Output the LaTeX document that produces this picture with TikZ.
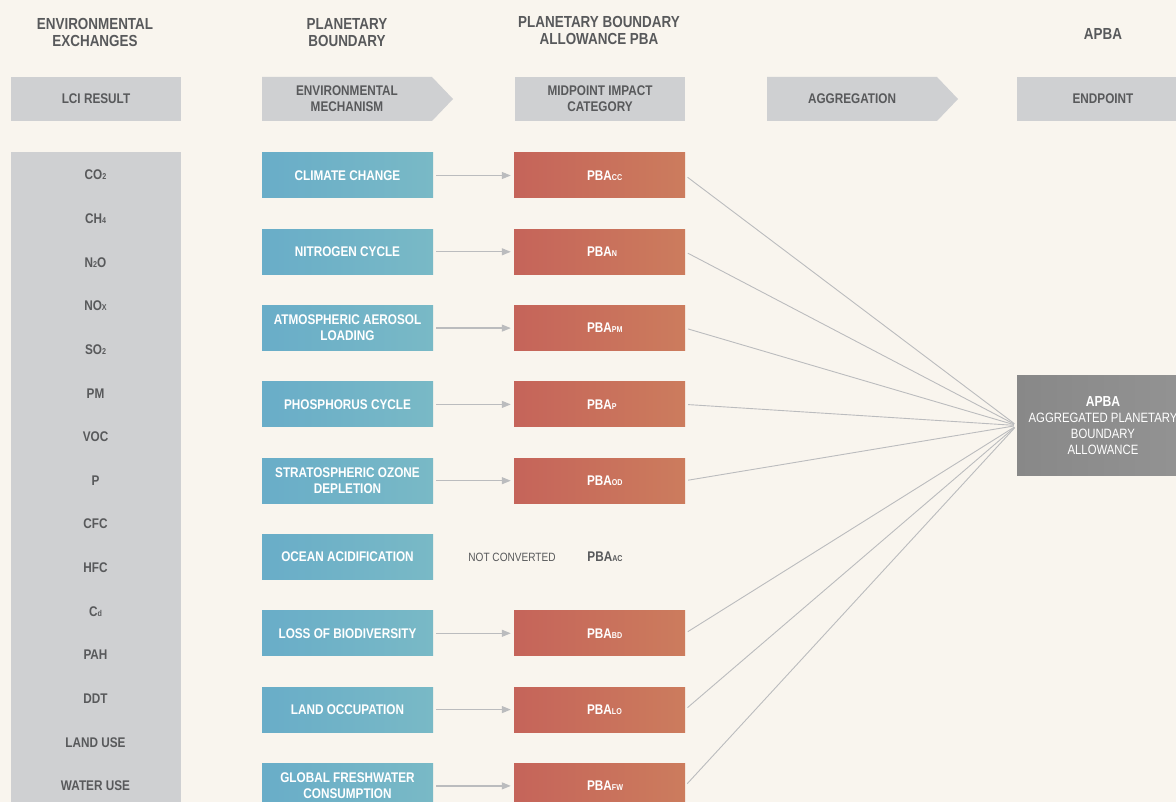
\documentclass[tikz,border=0pt]{standalone}
\usepackage{fontspec}
\setmainfont{Liberation Sans}[FakeStretch=0.84]
\usetikzlibrary{arrows.meta}

\definecolor{bg}{HTML}{F9F5EE}
\definecolor{panel}{HTML}{CFD0D2}
\definecolor{ink}{HTML}{58595B}
\definecolor{blueL}{HTML}{69ADC8}
\definecolor{blueR}{HTML}{79B9C6}
\definecolor{redL}{HTML}{C5645A}
\definecolor{redR}{HTML}{CC7C5D}
\definecolor{apbaL}{HTML}{888888}
\definecolor{apbaR}{HTML}{939393}
\definecolor{wire}{HTML}{BBBCBE}

\newcommand\titlefont{\fontsize{16}{17}\selectfont\bfseries}
\newcommand\boxfont{\fontsize{14}{16}\selectfont\bfseries}
\newcommand\notefont{\fontsize{12}{14}\selectfont}
\newcommand\lowsub[1]{{\fontsize{8.5}{9}\selectfont #1}}
\newcommand\pbasub[1]{PBA\rlap{\lowsub{#1}}}

\tikzset{
  coltitle/.style={text=ink, font=\titlefont, align=center, inner sep=0pt},
  hdrbox/.style={fill=panel, minimum width=170pt, minimum height=44pt, inner sep=0pt,
                 text=ink, font=\boxfont, align=center},
  hdrtext/.style={text=ink, font=\boxfont, align=center, inner sep=0pt},
  lciitem/.style={text=ink, font=\boxfont, inner sep=0pt},
  mech/.style={left color=blueL, right color=blueR, minimum width=171pt, minimum height=45pt,
               inner sep=0pt, text=white, font=\boxfont, align=center},
  pba/.style={left color=redL, right color=redR, minimum width=171pt, minimum height=45pt,
              inner sep=0pt, text=white, font=\boxfont, align=center},
  flow/.style={draw=wire, line width=1.2pt, shorten <=3pt, shorten >=3pt,
               -{Triangle[length=9pt,width=7pt]}},
  link/.style={draw=wire, line width=0.9pt, shorten <=3pt, shorten >=3pt},
}

\begin{document}
\begin{tikzpicture}[x=1pt,y=-1pt]
\clip (0,0) rectangle (1176,802);
\fill[bg] (0,0) rectangle (1176,802);

% column titles
\node[coltitle] (t1) at (95,32.5) {ENVIRONMENTAL\\EXCHANGES};
\node[coltitle] (t2) at (347,32.5) {PLANETARY\\BOUNDARY};
\node[coltitle] (t3) at (599,30.5) {PLANETARY BOUNDARY\\ALLOWANCE PBA};
\node[coltitle] (t4) at (1103,34) {APBA};

% header row
\node[hdrbox] (h1) at (96,99) {LCI RESULT};
\fill[panel] (262,77) -- (432,77) -- (453,99) -- (432,121) -- (262,121) -- cycle;
\node[hdrtext] (h2) at (347,99) {ENVIRONMENTAL\\MECHANISM};
\node[hdrbox] (h3) at (600,99) {MIDPOINT IMPACT\\CATEGORY};
\fill[panel] (767,77) -- (937,77) -- (958,99) -- (937,121) -- (767,121) -- cycle;
\node[hdrtext] (h4) at (852,99) {AGGREGATION};
\node[hdrbox, minimum width=172pt] (h5) at (1103,99) {ENDPOINT};

% LCI inventory panel
\node[fill=panel, minimum width=170pt, minimum height=670pt, inner sep=0pt,
      anchor=north west] (lci) at (11,152) {};
\foreach \lbl [count=\k from 0] in {CO\lowsub{2}, CH\lowsub{4}, N\lowsub{2}O, NO\lowsub{X},
    SO\lowsub{2}, PM, VOC, P, CFC, HFC, C\lowsub{d}, PAH, DDT, LAND USE, WATER USE}
  \node[lciitem] (e\k) at (95.5,175+43.64*\k) {\lbl};

% environmental mechanisms
\node[mech] (m1) at (347.5,175.5) {CLIMATE CHANGE};
\node[mech] (m2) at (347.5,251.8) {NITROGEN CYCLE};
\node[mech] (m3) at (347.5,328.1) {ATMOSPHERIC AEROSOL\\LOADING};
\node[mech] (m4) at (347.5,404.4) {PHOSPHORUS CYCLE};
\node[mech] (m5) at (347.5,480.7) {STRATOSPHERIC OZONE\\DEPLETION};
\node[mech] (m6) at (347.5,557.0) {OCEAN ACIDIFICATION};
\node[mech] (m7) at (347.5,633.3) {LOSS OF BIODIVERSITY};
\node[mech] (m8) at (347.5,709.6) {LAND OCCUPATION};
\node[mech] (m9) at (347.5,785.9) {GLOBAL FRESHWATER\\CONSUMPTION};

% planetary boundary allowances
\node[pba] (p1) at (599.5,175.5) {\pbasub{CC}};
\node[pba] (p2) at (599.5,251.8) {\pbasub{N}};
\node[pba] (p3) at (599.5,328.1) {\pbasub{PM}};
\node[pba] (p4) at (599.5,404.4) {\pbasub{P}};
\node[pba] (p5) at (599.5,480.7) {\pbasub{OD}};
\node[text=ink, font=\notefont, inner sep=0pt] (nc) at (512,557.0) {NOT CONVERTED};
\node[text=ink, font=\boxfont, inner sep=0pt] (p6) at (605,557.0) {PBA\lowsub{AC}};
\node[pba] (p7) at (599.5,633.3) {\pbasub{BD}};
\node[pba] (p8) at (599.5,709.6) {\pbasub{LO}};
\node[pba] (p9) at (599.5,785.9) {\pbasub{FW}};

% aggregated endpoint
\node[left color=apbaL, right color=apbaR, minimum width=172pt, minimum height=99pt,
      inner sep=0pt, text=white, align=center, font=\fontsize{13.5}{16}\selectfont]
  (apba) at (1103,425.5) {{\fontsize{14.5}{17}\selectfont\bfseries APBA}\\AGGREGATED PLANETARY\\BOUNDARY\\ALLOWANCE};

% mechanism -> allowance
\foreach \i in {1,2,3,4,5,7,8,9}
  \draw[flow] (m\i.east) -- (p\i.west);

% allowance -> aggregated endpoint
\foreach \i in {1,2,3,4,5,7,8,9}
  \draw[link] (p\i.east) -- (apba.west);
\end{tikzpicture}
\end{document}
